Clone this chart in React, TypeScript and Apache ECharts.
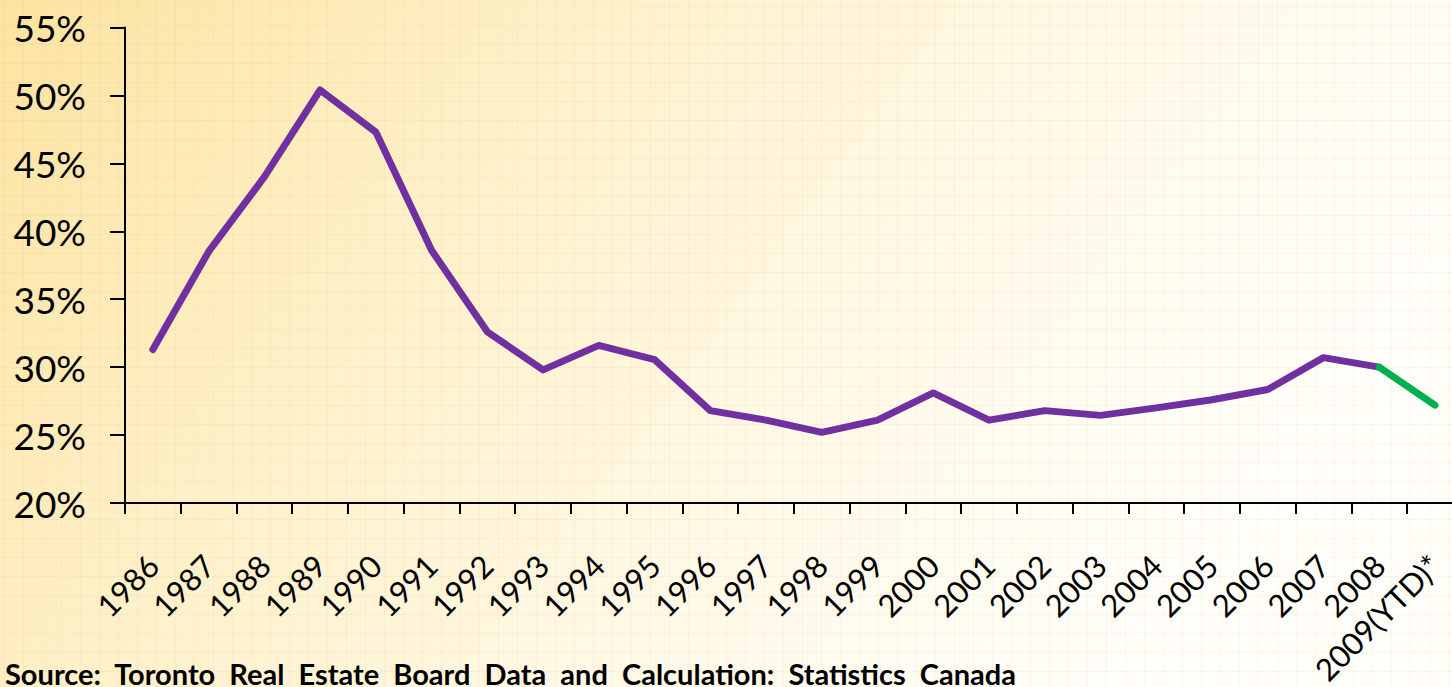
import React, { useEffect, useRef } from "react";
import * as echarts from "echarts";

const years: string[] = [
  "1986", "1987", "1988", "1989", "1990", "1991", "1992", "1993", "1994", "1995",
  "1996", "1997", "1998", "1999", "2000", "2001", "2002", "2003", "2004", "2005",
  "2006", "2007", "2008", "2009(YTD)*",
];

// percent values, 1986–2008 (purple)
const historical: (number | null)[] = [
  31.3, 38.5, 44.0, 50.4, 47.3, 38.6, 32.6, 29.8, 31.6, 30.55,
  26.8, 26.1, 25.2, 26.1, 28.1, 26.1, 26.8, 26.45, 27.0, 27.6,
  28.35, 30.7, 30.0, null,
];

// 2008 -> 2009 year-to-date segment (green)
const ytd: (number | null)[] = [
  null, null, null, null, null, null, null, null, null, null,
  null, null, null, null, null, null, null, null, null, null,
  null, null, 30.0, 27.2,
];

const yMin = 20;
const yMax = 55;
const yStep = 5;

const sourceText = "Source:  Toronto  Real  Estate  Board  Data  and  Calculation:  Statistics  Canada";

const W = 1452;
const H = 687;

function paperTexture(): any[] {
  const els: any[] = [];
  const step = 19;
  for (let x = 4; x < W; x += step) {
    els.push({
      type: "line",
      silent: true,
      shape: { x1: x + 0.5, y1: 0, x2: x + 0.5, y2: H },
      style: { stroke: "rgba(190,160,90,0.07)", lineWidth: 1 },
    });
  }
  for (let y = 6; y < H; y += step) {
    els.push({
      type: "line",
      silent: true,
      shape: { x1: 0, y1: y + 0.5, x2: W, y2: y + 0.5 },
      style: { stroke: "rgba(190,160,90,0.07)", lineWidth: 1 },
    });
  }
  return els;
}

export default function App() {
  const ref = useRef<HTMLDivElement>(null);

  useEffect(() => {
    if (!ref.current) return;
    const chart = echarts.init(ref.current, undefined, { renderer: "svg" });
    chart.setOption({
      animation: false,
      backgroundColor: {
        type: "linear",
        x: 0,
        y: 0,
        x2: 1,
        y2: 0.35,
        colorStops: [
          { offset: 0, color: "#FCE3A0" },
          { offset: 0.35, color: "#FEF0C8" },
          { offset: 0.7, color: "#FFF9E8" },
          { offset: 1, color: "#FFFEF9" },
        ],
      },
      grid: {
        left: 125,
        top: 27.5,
        bottom: 184,
        right: -10.8,
        containLabel: false,
        outerBoundsMode: "none",
      },
      xAxis: {
        type: "category",
        data: years,
        boundaryGap: true,
        axisLine: { lineStyle: { color: "#000", width: 2 } },
        axisTick: { show: true, length: 11, lineStyle: { color: "#000", width: 2 } },
        axisLabel: {
          interval: 0,
          rotate: 45,
          margin: 57,
          color: "#000",
          fontFamily: "Lato",
          fontSize: 31,
        },
        splitLine: { show: false },
      },
      yAxis: {
        type: "value",
        min: yMin,
        max: yMax,
        interval: yStep,
        axisLine: { show: true, lineStyle: { color: "#000", width: 2 } },
        axisTick: { show: true, length: 15, lineStyle: { color: "#000", width: 2 } },
        axisLabel: {
          formatter: "{value}%",
          margin: 39,
          color: "#000",
          fontFamily: "Lato",
          fontSize: 37,
        },
        splitLine: { show: false },
      },
      series: [
        {
          type: "line",
          data: historical,
          showSymbol: false,
          symbol: "none",
          connectNulls: false,
          lineStyle: { color: "#7030A0", width: 7, cap: "round", join: "round" },
          z: 2,
        },
        {
          type: "line",
          data: ytd,
          showSymbol: false,
          symbol: "none",
          connectNulls: false,
          lineStyle: { color: "#00B050", width: 7, cap: "round", join: "round" },
          z: 3,
        },
      ],
      graphic: [
        {
          type: "group",
          silent: true,
          z: -10,
          children: paperTexture(),
        },
        {
          type: "text",
          x: 5,
          y: 673,
          style: {
            text: sourceText,
            fontFamily: "Lato",
            fontWeight: "bold",
            fontSize: 29,
            fill: "#000",
            verticalAlign: "middle",
          },
        },
      ],
    });
    return () => chart.dispose();
  }, []);

  return (
    <div
      ref={ref}
      style={{ position: "absolute", left: 0, top: 0, width: W, height: H }}
    />
  );
}
